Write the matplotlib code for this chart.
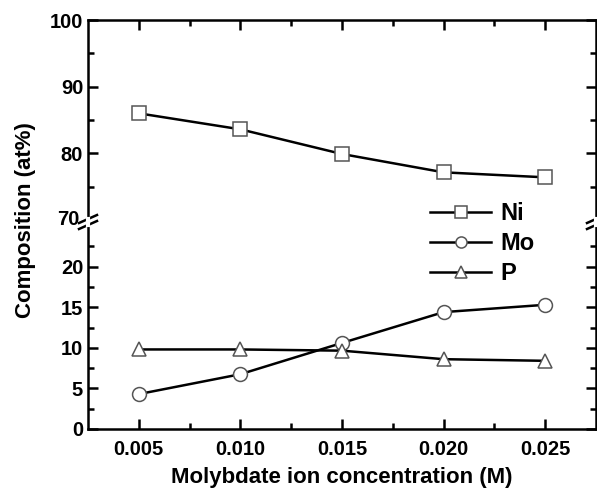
import matplotlib.pyplot as plt
from matplotlib.lines import Line2D

plt.rcParams['font.family'] = ['Liberation Sans', 'DejaVu Sans']
plt.rcParams['font.weight'] = 'bold'

conc = [0.005, 0.010, 0.015, 0.020, 0.025]
ni = [86.0, 83.6, 79.9, 77.15, 76.4]
mo = [4.3, 6.75, 10.6, 14.4, 15.3]
p = [9.8, 9.8, 9.65, 8.6, 8.4]
xticks = [0.005, 0.010, 0.015, 0.020, 0.025]
xticklabels = ['0.005', '0.010', '0.015', '0.020', '0.025']

fig = plt.figure(figsize=(5.97, 4.90), dpi=100)
# top panel 70-100, bottom panel 0-25.5, touching at the break
ax_top = fig.add_axes([88 / 597, 1 - 222 / 490, 508 / 597, 202 / 490])
ax_bot = fig.add_axes([88 / 597, 1 - 429 / 490, 508 / 597, 207 / 490])

mk = dict(color='black', lw=1.8, markersize=10, markerfacecolor='white',
          markeredgecolor='#555555', markeredgewidth=1.1)

ax_top.plot(conc, ni, marker='s', **mk)
ax_bot.plot(conc, mo, marker='o', **mk)
ax_bot.plot(conc, p, marker='^', **mk)

for ax in (ax_top, ax_bot):
    ax.set_xlim(0.0025, 0.0275)
    ax.set_xticks(xticks)
    ax.set_xticks([0.0075, 0.0125, 0.0175, 0.0225], minor=True)
    for s in ax.spines.values():
        s.set_linewidth(1.8)
    ax.tick_params(which='both', direction='in', top=True, right=True,
                   width=1.8, labelsize=14.5)
    ax.tick_params(which='major', length=7)
    ax.tick_params(which='minor', length=4)

ax_top.set_ylim(69.7, 100)
ax_top.set_yticks([80, 90, 100])
ax_top.set_yticks([75, 85, 95], minor=True)
ax_top.spines['bottom'].set_visible(False)
ax_top.tick_params(which='both', bottom=False, labelbottom=False)

ax_bot.set_ylim(0, 25.5)
ax_bot.set_yticks([0, 5, 10, 15, 20])
ax_bot.set_yticks([2.5, 7.5, 12.5, 17.5, 22.5], minor=True)
ax_bot.spines['top'].set_visible(False)
ax_bot.tick_params(which='both', top=False)
ax_bot.set_xticklabels(xticklabels)
ax_bot.tick_params(axis='x', pad=8)

# label for 70 sits at the break
fig.text(80 / 597, 1 - 219 / 490, '70', ha='right', va='center',
         fontsize=14.5, fontweight='bold')

# break marks on both vertical spines
for xc in (88, 596):
    for dy in (-3, 3):
        fig.add_artist(Line2D([(xc - 9) / 597, (xc + 9) / 597],
                              [1 - (222 + dy + 4) / 490, 1 - (222 + dy - 4) / 490],
                              color='black', lw=1.8))
    fig.add_artist(Line2D([xc / 597, xc / 597],
                          [1 - 225 / 490, 1 - 219 / 490],
                          color='white', lw=3))

ax_bot.set_xlabel('Molybdate ion concentration (M)', fontsize=16,
                  fontweight='bold', labelpad=6)
fig.text(26 / 597, 1 - 220 / 490, 'Composition (at%)', rotation=90,
         ha='center', va='center', fontsize=16, fontweight='bold')

handles = [
    Line2D([], [], marker='s', **{**mk, 'markersize': 8}),
    Line2D([], [], marker='o', **{**mk, 'markersize': 8}),
    Line2D([], [], marker='^', **{**mk, 'markersize': 8}),
]
fig.legend(handles, ['Ni', 'Mo', 'P'], loc='upper left',
           bbox_to_anchor=(418 / 597, 1 - 190 / 490), frameon=False,
           prop={'size': 17, 'weight': 'bold'}, handlelength=2.6,
           handletextpad=0.4, labelspacing=0.3, borderpad=0)

fig.savefig('out.png', dpi=100)
